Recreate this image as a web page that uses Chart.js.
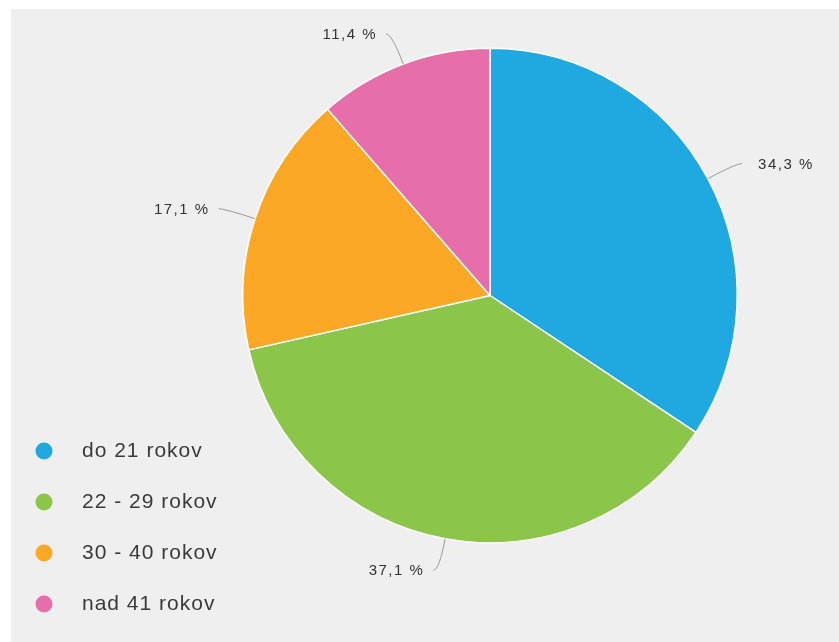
<!DOCTYPE html>
<html>
<head>
<meta charset="utf-8">
<script src="https://cdn.jsdelivr.net/npm/chart.js@4/dist/chart.umd.min.js"></script>
<style>
  html, body { margin: 0; padding: 0; background: #fff; }
  #wrap { width: 839px; height: 642px; position: relative; }
</style>
</head>
<body>
<div id="wrap"><canvas id="ageChart" width="839" height="642"></canvas></div>
<script>
// age groups and their share (%)
const categories = ['do 21 rokov', '22 - 29 rokov', '30 - 40 rokov', 'nad 41 rokov'];
const shares = [34.3, 37.1, 17.1, 11.4];
const shareLabels = ['34,3 %', '37,1 %', '17,1 %', '11,4 %'];
const sliceColors = ['#1fa9e0', '#8bc54a', '#faa826', '#e66eab'];

// grey panel behind everything, white strip at top/left
const panelBg = {
  id: 'panelBg',
  beforeDraw(chart) {
    const ctx = chart.ctx;
    ctx.save();
    ctx.fillStyle = '#ffffff';
    ctx.fillRect(0, 0, chart.width, chart.height);
    ctx.fillStyle = '#efefef';
    ctx.fillRect(11, 9, chart.width - 11, chart.height - 9);
    ctx.restore();
  },
};

// percentage labels with leader lines
const outsideLabels = {
  id: 'outsideLabels',
  afterDatasetsDraw(chart) {
    const ctx = chart.ctx;
    const arcs = chart.getDatasetMeta(0).data;
    ctx.save();
    ctx.font = '15px "Liberation Sans", Arial, sans-serif';
    ctx.letterSpacing = '1.5px';
    ctx.textBaseline = 'middle';
    arcs.forEach((arc, i) => {
      const { x, y, startAngle, endAngle, outerRadius } = arc.getProps(['x', 'y', 'startAngle', 'endAngle', 'outerRadius'], true);
      const mid = (startAngle + endAngle) / 2;
      const cos = Math.cos(mid), sin = Math.sin(mid);
      const p0 = { x: x + cos * outerRadius, y: y + sin * outerRadius };
      const p1 = { x: x + cos * (outerRadius + 32), y: y + sin * (outerRadius + 32) };
      const dir = cos >= 0 ? 1 : -1;
      const p2 = { x: p1.x + dir * 6, y: p1.y };
      ctx.strokeStyle = '#9a9a9a';
      ctx.lineWidth = 1;
      ctx.beginPath();
      ctx.moveTo(p0.x, p0.y);
      ctx.quadraticCurveTo(p1.x, p1.y, p2.x, p2.y);
      ctx.stroke();
      ctx.fillStyle = '#333';
      ctx.textAlign = dir > 0 ? 'left' : 'right';
      ctx.fillText(shareLabels[i], p2.x + dir * (dir > 0 ? 16 : 9), p2.y + 1);
    });
    ctx.restore();
  },
};

// legend in the bottom-left corner
const cornerLegend = {
  id: 'cornerLegend',
  afterDraw(chart) {
    const ctx = chart.ctx;
    const ds = chart.data.datasets[0];
    ctx.save();
    ctx.font = '21px "Liberation Sans", Arial, sans-serif';
    ctx.letterSpacing = '1px';
    ctx.textBaseline = 'middle';
    ctx.textAlign = 'left';
    chart.data.labels.forEach((label, i) => {
      const cy = 451 + i * 51;
      ctx.fillStyle = ds.backgroundColor[i];
      ctx.beginPath();
      ctx.arc(44, cy, 8.5, 0, Math.PI * 2);
      ctx.fill();
      ctx.fillStyle = '#3a3a3a';
      ctx.fillText(label, 82, cy);
    });
    ctx.restore();
  },
};

new Chart(document.getElementById('ageChart'), {
  type: 'pie',
  data: {
    labels: categories,
    datasets: [{
      data: shares,
      backgroundColor: sliceColors,
      borderColor: '#ffffff',
      borderWidth: 1.5,
    }],
  },
  options: {
    responsive: false,
    animation: false,
    layout: { padding: { left: 242, right: 101, top: 47, bottom: 98 } },
    plugins: {
      legend: { display: false },
      tooltip: { enabled: false },
    },
  },
  plugins: [panelBg, outsideLabels, cornerLegend],
});
</script>
</body>
</html>
